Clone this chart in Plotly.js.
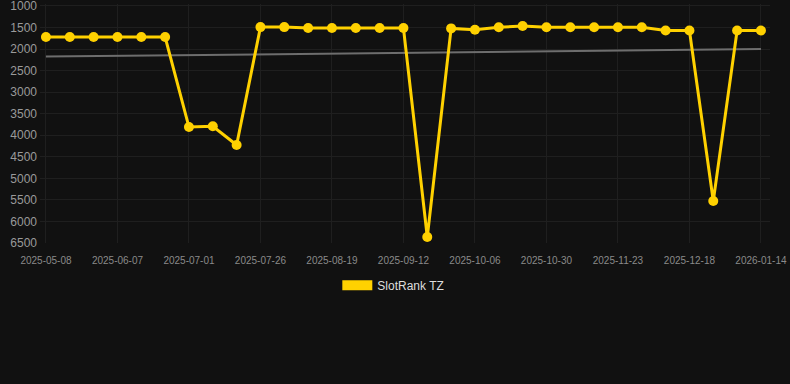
<!DOCTYPE html>
<html>
<head>
<meta charset="utf-8">
<script src="https://cdn.plot.ly/plotly-3.0.1.min.js"></script>
<style>
html,body{margin:0;padding:0;background:#111111;}
#chart{width:790px;height:384px;}
</style>
</head>
<body>
<div id="chart"></div>
<script>
const dates = [
  "2025-05-08","2025-05-18","2025-05-28","2025-06-07","2025-06-15","2025-06-23",
  "2025-07-01","2025-07-09","2025-07-17","2025-07-26","2025-08-03","2025-08-11",
  "2025-08-19","2025-08-27","2025-09-04","2025-09-12","2025-09-20","2025-09-28",
  "2025-10-06","2025-10-14","2025-10-22","2025-10-30","2025-11-07","2025-11-15",
  "2025-11-23","2025-12-01","2025-12-09","2025-12-18","2025-12-27","2026-01-05",
  "2026-01-14"
];
const ranks = [
  1720,1720,1720,1720,1720,1720,
  3810,3790,4225,1490,1490,1510,
  1510,1510,1510,1510,6360,1520,
  1550,1495,1465,1495,1495,1495,
  1495,1495,1570,1570,5525,1570,
  1570
];
const trendDates = ["2025-05-08","2026-01-14"];
const trendValues = [2175, 2000];
const seriesName = "SlotRank TZ";
const yTicks = [1000,1500,2000,2500,3000,3500,4000,4500,5000,5500,6000,6500];
const xTicks = dates.filter((d,i)=> i % 3 === 0);

const gold = "#FFD100";
const traces = [
  {
    x: trendDates, y: trendValues, type: "scatter", mode: "lines",
    line: {color: "#6e6e6e", width: 2}, showlegend: false, hoverinfo: "skip"
  },
  {
    x: dates, y: ranks, type: "scatter", mode: "lines+markers",
    line: {color: gold, width: 3}, marker: {color: gold, size: 10},
    showlegend: false, name: seriesName
  },
  {
    x: [null], y: [null], type: "scatter", mode: "lines",
    line: {color: gold, width: 10}, name: seriesName, showlegend: true
  }
];

const layout = {
  width: 790, height: 384,
  paper_bgcolor: "#111111", plot_bgcolor: "#111111",
  margin: {l: 40, r: 20, t: 4, b: 141},
  font: {family: "Liberation Sans, Arial, sans-serif", color: "#999999"},
  xaxis: {
    type: "category", categoryorder: "array", categoryarray: dates,
    range: [-0.25, 30.38],
    tickmode: "array", tickvals: xTicks, ticktext: xTicks,
    tickfont: {size: 10, color: "#8a8a8a"},
    showgrid: true, gridcolor: "#1f1f1f", gridwidth: 1,
    zeroline: false, showline: false,
    ticks: "outside", ticklen: 8, tickcolor: "rgba(0,0,0,0)"
  },
  yaxis: {
    range: [6500, 954], tickmode: "array", tickvals: yTicks,
    tickfont: {size: 12, color: "#9a9a9a"},
    showgrid: true, gridcolor: "#1f1f1f", gridwidth: 1,
    zeroline: false, showline: false, ticks: "", ticklabelstandoff: 2,
    ticklabeloverflow: "allow"
  },
  legend: {
    orientation: "h", x: 0.484, xanchor: "center", y: -0.177, yanchor: "middle",
    font: {size: 12, color: "#dddddd"}, bgcolor: "rgba(0,0,0,0)"
  },
  showlegend: true
};

Plotly.newPlot("chart", traces, layout, {displayModeBar: false, staticPlot: true});
</script>
</body>
</html>
